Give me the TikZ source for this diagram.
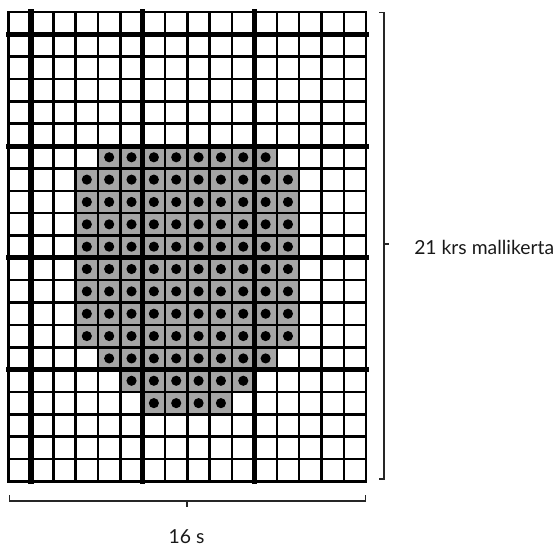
\documentclass[tikz,border=0pt]{standalone}
\usepackage{fontspec}
\setmainfont{Lato}
\definecolor{cellgray}{HTML}{A5A5A5}
\begin{document}
\begin{tikzpicture}[x=0.75pt,y=-0.75pt,
  thingrid/.style={line width=1.9pt, line cap=rect},
  thickgrid/.style={line width=3.9pt, line cap=rect},
  bracket/.style={line width=0.9pt, draw=black!85},
  lbl/.style={font=\fontsize{14.5}{17}\selectfont, text=black!90, inner sep=0pt},
  stitchcell/.style={fill=cellgray},
  stitchdot/.style={fill=black}]
\useasboundingbox (0,0) rectangle (558,547);
\def\gx{8.6}\def\gy{12}\def\cs{22.35}
% filled cells with dots
\foreach \r/\a/\b in {7/5/12, 8/4/13, 9/4/13, 10/4/13, 11/4/13, 12/4/13, 13/4/13, 14/4/13, 15/4/13, 16/5/12, 17/6/11, 18/7/10} {
  \foreach \c in {\a,...,\b} {
    \fill[stitchcell] ({\gx+(\c-1)*\cs},{\gy+(\r-1)*\cs}) rectangle ({\gx+\c*\cs},{\gy+\r*\cs});
    \fill[stitchdot] ({\gx+(\c-0.5)*\cs},{\gy+(\r-0.5)*\cs}) circle (3.8pt);
  }
}
% thin grid lines
\foreach \i in {0,...,16} {
  \draw[thingrid] ({\gx+\i*\cs},\gy) -- ({\gx+\i*\cs},{\gy+21*\cs});
}
\foreach \j in {0,...,21} {
  \draw[thingrid] (\gx,{\gy+\j*\cs}) -- ({\gx+16*\cs},{\gy+\j*\cs});
}
% thick grid lines
\foreach \i in {1,6,11} {
  \draw[thickgrid] ({\gx+\i*\cs},\gy) -- ({\gx+\i*\cs},{\gy+21*\cs});
}
\foreach \j in {1,6,11,16} {
  \draw[thickgrid] (\gx,{\gy+\j*\cs}) -- ({\gx+16*\cs},{\gy+\j*\cs});
}
% right bracket
\coordinate (rt) at (384,12.5);
\coordinate (rb) at (384,479);
\coordinate (rm) at (384,244);
\draw[bracket] ([xshift=-3.75pt]rt) -- (rt) -- (rb) -- ([xshift=-3.75pt]rb);
\draw[bracket] (rm) -- ([xshift=4pt]rm);
\node[lbl, anchor=base west] (rows) at (414,254.3) {21 krs mallikerta};
% bottom bracket
\coordinate (bl) at (9.5,501);
\coordinate (br) at (365.5,501);
\coordinate (bm) at (187,501);
\draw[bracket] ([yshift=4.5pt]bl) -- (bl) -- (br) -- ([yshift=4.5pt]br);
\draw[bracket] (bm) -- ([yshift=-4.5pt]bm);
\node[lbl, anchor=base] (sts) at (186.5,543.5) {16 s};
\end{tikzpicture}
\end{document}
